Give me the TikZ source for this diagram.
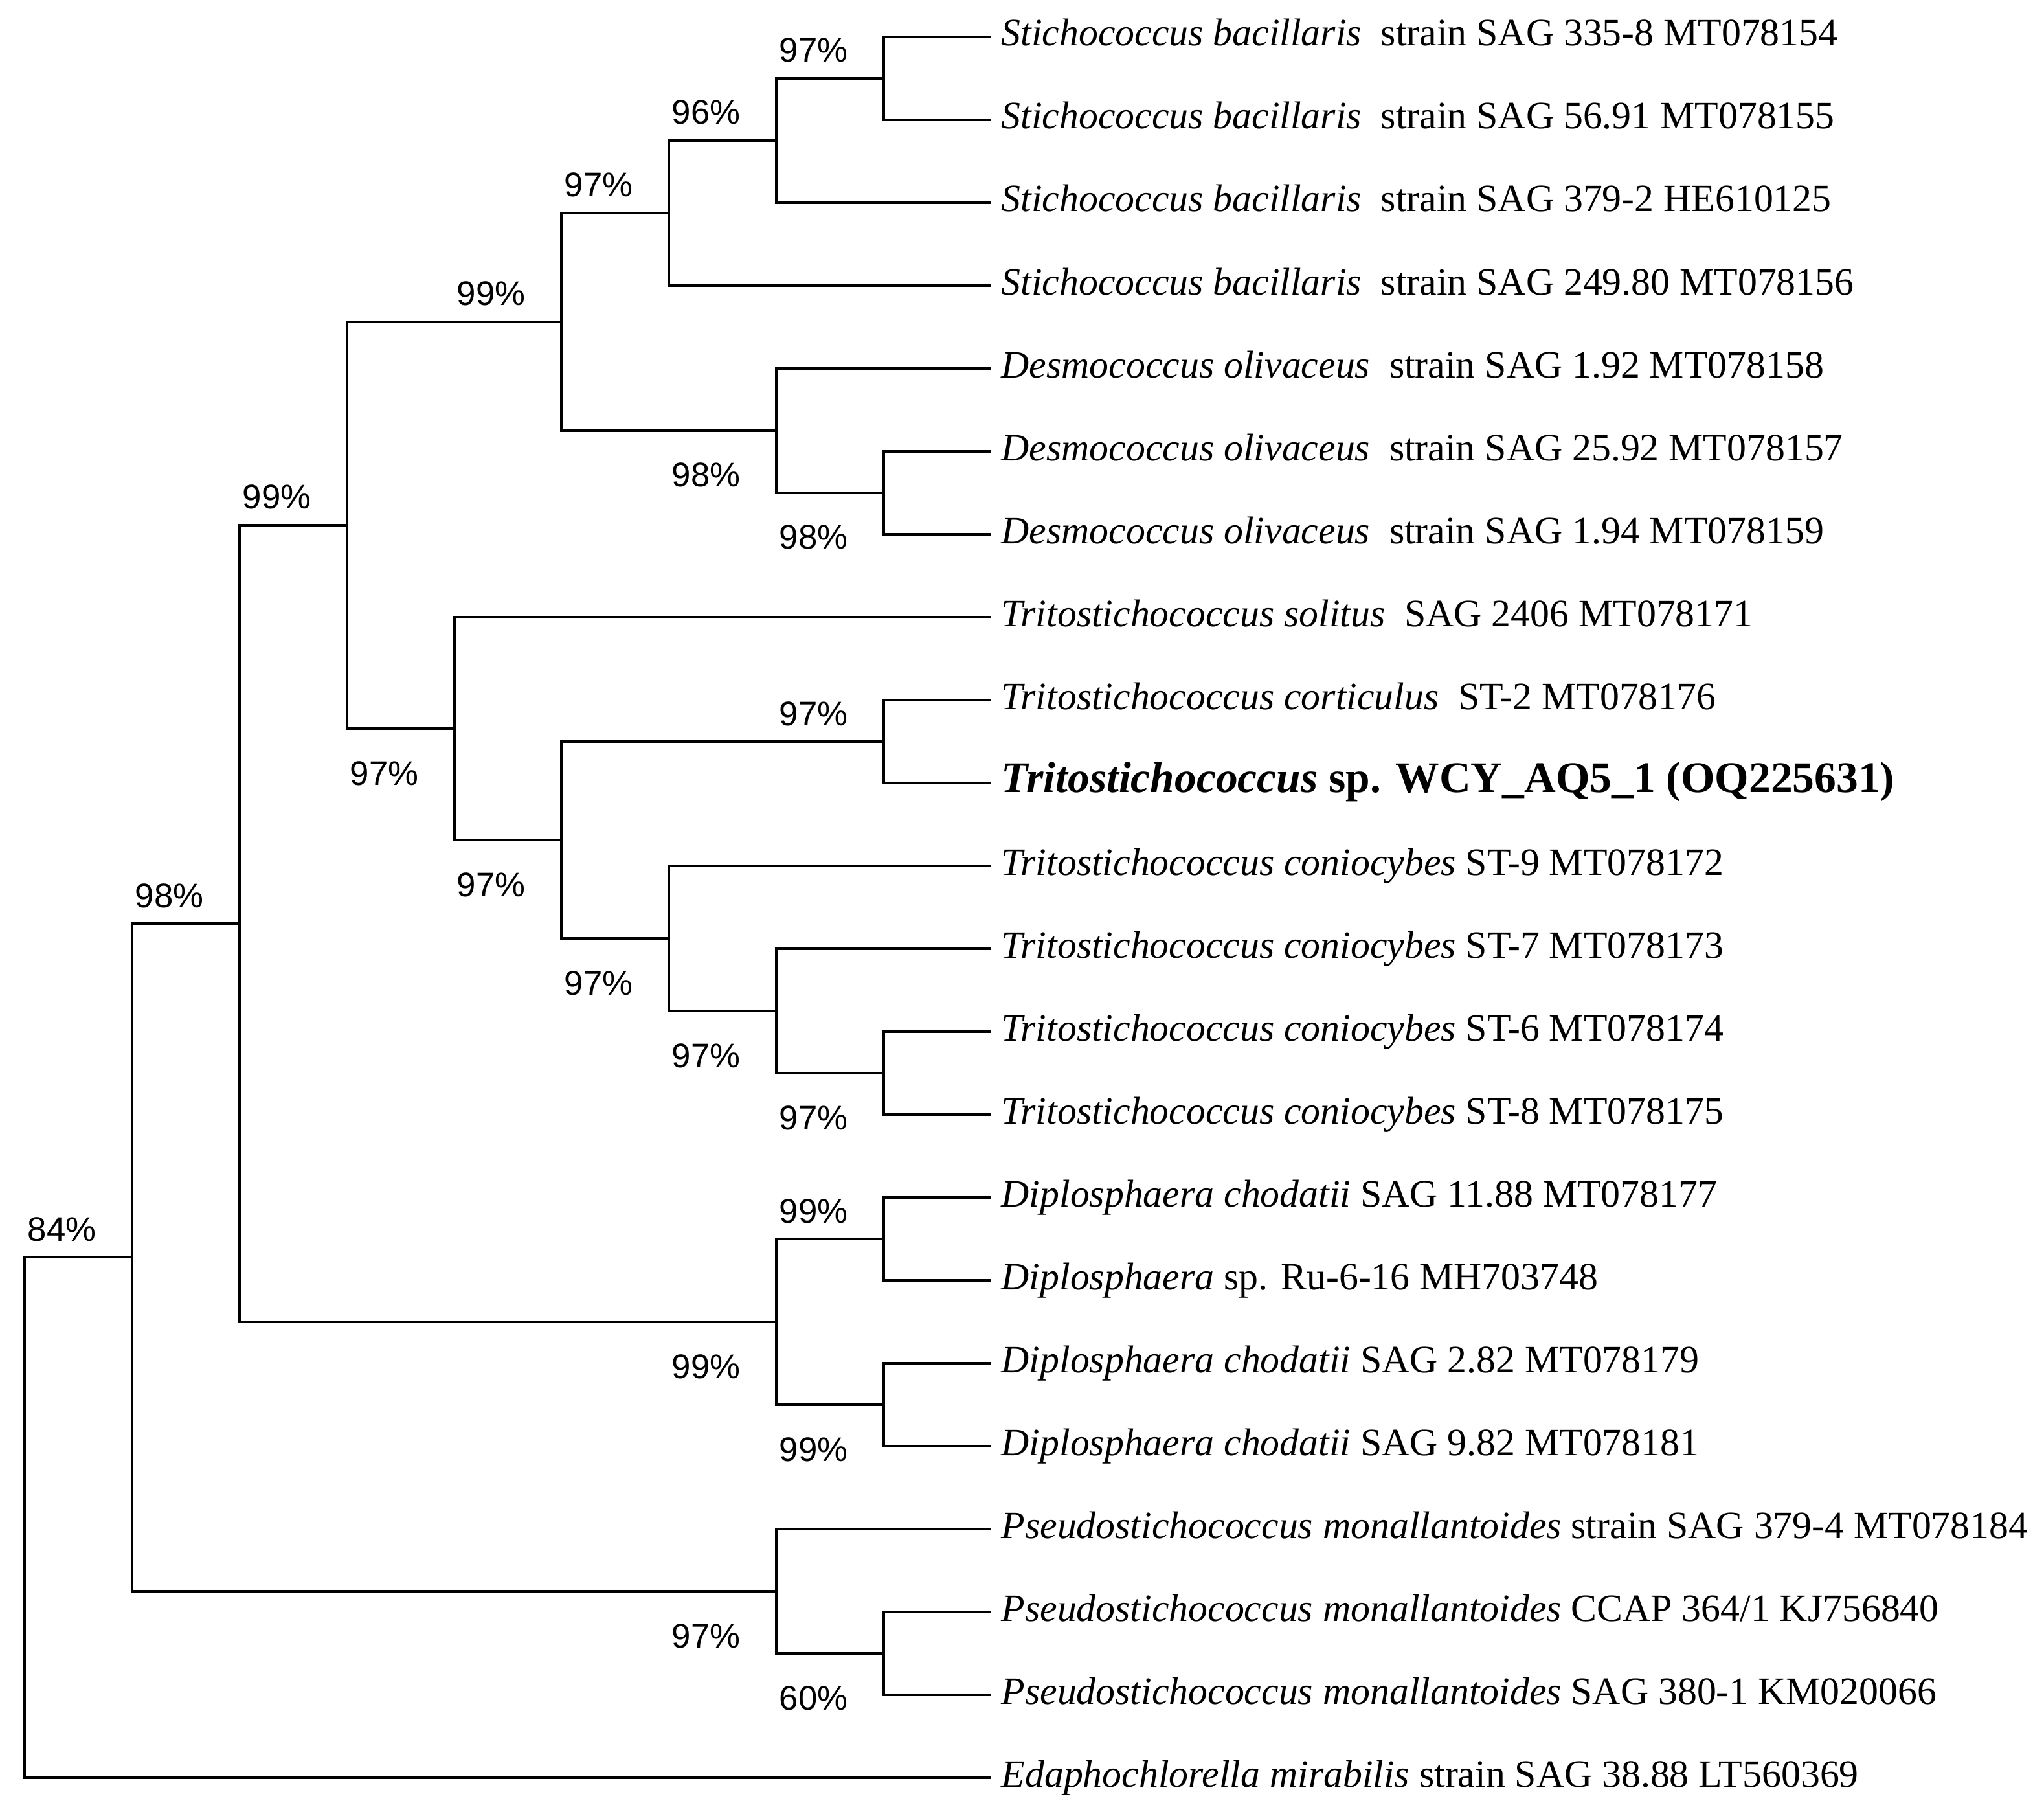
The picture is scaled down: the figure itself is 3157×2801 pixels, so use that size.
\documentclass[tikz,border=0pt]{standalone}
\usepackage{fontspec}
\setmainfont{Liberation Serif}
\newfontfamily\supfont{Liberation Sans}
\usetikzlibrary{calc}

\tikzset{
  branch/.style={line width=1.2pt, line join=miter},
  taxon/.style={anchor=base west, inner sep=0pt, xshift=0.15cm, yshift=-0.14cm, font=\fontsize{17}{20}\selectfont},
  bsup/.style={anchor=base east, inner sep=0pt, shift={(-55,-25)}, font=\supfont\fontsize{15}{18}\selectfont},
  bsdn/.style={anchor=base east, inner sep=0pt, shift={(-55,87)}, font=\supfont\fontsize{15}{18}\selectfont}
}

\begin{document}
\begin{tikzpicture}[x=0.01cm, y=-0.01cm]
  \useasboundingbox (0,0) rectangle (3157,2801);

  % leaves
  \coordinate (l0) at (1531,57);
  \coordinate (l1) at (1531,185);
  \coordinate (l2) at (1531,313);
  \coordinate (l3) at (1531,441);
  \coordinate (l4) at (1531,569);
  \coordinate (l5) at (1531,697);
  \coordinate (l6) at (1531,825);
  \coordinate (l7) at (1531,953);
  \coordinate (l8) at (1531,1081);
  \coordinate (l9) at (1531,1209);
  \coordinate (l10) at (1531,1337);
  \coordinate (l11) at (1531,1465);
  \coordinate (l12) at (1531,1593);
  \coordinate (l13) at (1531,1721);
  \coordinate (l14) at (1531,1849);
  \coordinate (l15) at (1531,1977);
  \coordinate (l16) at (1531,2105);
  \coordinate (l17) at (1531,2233);
  \coordinate (l18) at (1531,2361);
  \coordinate (l19) at (1531,2489);
  \coordinate (l20) at (1531,2617);
  \coordinate (l21) at (1531,2745);

  % inner nodes
  \coordinate (R) at (38,2343);
  \coordinate (A) at (204,1941);
  \coordinate (B) at (370,1426);
  \coordinate (C) at (536,811);
  \coordinate (F) at (867,497);
  \coordinate (S) at (1033,329);
  \coordinate (S1) at (1199,217);
  \coordinate (S2) at (1365,121);
  \coordinate (Dm) at (1199,665);
  \coordinate (Dm2) at (1365,761);
  \coordinate (T) at (702,1125);
  \coordinate (T2) at (867,1297);
  \coordinate (T3) at (1365,1145);
  \coordinate (T4) at (1033,1449);
  \coordinate (T5) at (1199,1561);
  \coordinate (T6) at (1365,1657);
  \coordinate (D) at (1199,2041);
  \coordinate (D1) at (1365,1913);
  \coordinate (D2) at (1365,2169);
  \coordinate (P) at (1199,2457);
  \coordinate (P2) at (1365,2553);

  % branches
  \draw[branch] (R) |- (A) (R) |- (l21);
  \draw[branch] (A) |- (B) (A) |- (P);
  \draw[branch] (B) |- (C) (B) |- (D);
  \draw[branch] (C) |- (F) (C) |- (T);
  \draw[branch] (F) |- (S) (F) |- (Dm);
  \draw[branch] (S) |- (S1) (S) |- (l3);
  \draw[branch] (S1) |- (S2) (S1) |- (l2);
  \draw[branch] (S2) |- (l0) (S2) |- (l1);
  \draw[branch] (Dm) |- (l4) (Dm) |- (Dm2);
  \draw[branch] (Dm2) |- (l5) (Dm2) |- (l6);
  \draw[branch] (T) |- (l7) (T) |- (T2);
  \draw[branch] (T2) |- (T3) (T2) |- (T4);
  \draw[branch] (T3) |- (l8) (T3) |- (l9);
  \draw[branch] (T4) |- (l10) (T4) |- (T5);
  \draw[branch] (T5) |- (l11) (T5) |- (T6);
  \draw[branch] (T6) |- (l12) (T6) |- (l13);
  \draw[branch] (D) |- (D1) (D) |- (D2);
  \draw[branch] (D1) |- (l14) (D1) |- (l15);
  \draw[branch] (D2) |- (l16) (D2) |- (l17);
  \draw[branch] (P) |- (l18) (P) |- (P2);
  \draw[branch] (P2) |- (l19) (P2) |- (l20);

  % bootstrap values
  \node[bsup] (bA) at (A) {84\%};
  \node[bsup] (bB) at (B) {98\%};
  \node[bsup] (bC) at (C) {99\%};
  \node[bsup] (bF) at (F) {99\%};
  \node[bsup] (bS) at (S) {97\%};
  \node[bsup] (bS1) at (S1) {96\%};
  \node[bsup] (bS2) at (S2) {97\%};
  \node[bsdn] (bDm) at (Dm) {98\%};
  \node[bsdn] (bDm2) at (Dm2) {98\%};
  \node[bsdn] (bT) at (T) {97\%};
  \node[bsdn] (bT2) at (T2) {97\%};
  \node[bsup] (bT3) at (T3) {97\%};
  \node[bsdn] (bT4) at (T4) {97\%};
  \node[bsdn] (bT5) at (T5) {97\%};
  \node[bsdn] (bT6) at (T6) {97\%};
  \node[bsup] (bD1) at (D1) {99\%};
  \node[bsdn] (bD) at (D) {99\%};
  \node[bsdn] (bD2) at (D2) {99\%};
  \node[bsdn] (bP) at (P) {97\%};
  \node[bsdn] (bP2) at (P2) {60\%};

  % taxa
  \node[taxon] (t0) at (l0) {\textit{Stichococcus bacillaris}~ strain SAG 335-8 MT078154};
  \node[taxon] (t1) at (l1) {\textit{Stichococcus bacillaris}~ strain SAG 56.91 MT078155};
  \node[taxon] (t2) at (l2) {\textit{Stichococcus bacillaris}~ strain SAG 379-2 HE610125};
  \node[taxon] (t3) at (l3) {\textit{Stichococcus bacillaris}~ strain SAG 249.80 MT078156};
  \node[taxon] (t4) at (l4) {\textit{Desmococcus olivaceus}~ strain SAG 1.92 MT078158};
  \node[taxon] (t5) at (l5) {\textit{Desmococcus olivaceus}~ strain SAG 25.92 MT078157};
  \node[taxon] (t6) at (l6) {\textit{Desmococcus olivaceus}~ strain SAG 1.94 MT078159};
  \node[taxon] (t7) at (l7) {\textit{Tritostichococcus solitus}~ SAG 2406 MT078171};
  \node[taxon] (t8) at (l8) {\textit{Tritostichococcus corticulus}~ ST-2 MT078176};
  \node[taxon, font=\fontsize{19.2}{23}\selectfont\bfseries] (t9) at (l9) {\textit{Tritostichococcus} sp. WCY\_AQ5\_1 (OQ225631)};
  \node[taxon] (t10) at (l10) {\textit{Tritostichococcus coniocybes} ST-9 MT078172};
  \node[taxon] (t11) at (l11) {\textit{Tritostichococcus coniocybes} ST-7 MT078173};
  \node[taxon] (t12) at (l12) {\textit{Tritostichococcus coniocybes} ST-6 MT078174};
  \node[taxon] (t13) at (l13) {\textit{Tritostichococcus coniocybes} ST-8 MT078175};
  \node[taxon] (t14) at (l14) {\textit{Diplosphaera chodatii} SAG 11.88 MT078177};
  \node[taxon] (t15) at (l15) {\textit{Diplosphaera} sp. Ru-6-16 MH703748};
  \node[taxon] (t16) at (l16) {\textit{Diplosphaera chodatii} SAG 2.82 MT078179};
  \node[taxon] (t17) at (l17) {\textit{Diplosphaera chodatii} SAG 9.82 MT078181};
  \node[taxon] (t18) at (l18) {\textit{Pseudostichococcus monallantoides} strain SAG 379-4 MT078184};
  \node[taxon] (t19) at (l19) {\textit{Pseudostichococcus monallantoides} CCAP 364/1 KJ756840};
  \node[taxon] (t20) at (l20) {\textit{Pseudostichococcus monallantoides} SAG 380-1 KM020066};
  \node[taxon] (t21) at (l21) {\textit{Edaphochlorella mirabilis} strain SAG 38.88 LT560369};
\end{tikzpicture}
\end{document}
